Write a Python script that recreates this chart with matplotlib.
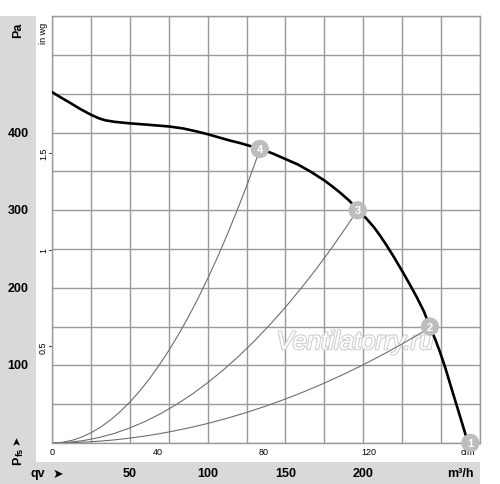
import matplotlib
matplotlib.use("Agg")
import matplotlib.pyplot as plt
import matplotlib.patheffects as pe
from matplotlib.transforms import blended_transform_factory
from matplotlib.patches import Rectangle

plt.rcParams['font.family'] = ['Liberation Sans', 'DejaVu Sans']

# ---- data ----
fan_q = [0, 5, 11, 18, 25, 30, 34, 40, 50, 63, 75, 84, 92, 100, 107, 114, 121, 127, 134,
         142, 150, 158, 166, 175, 180, 185, 191, 197, 202, 207, 211, 215, 220, 225, 230,
         234.5, 239, 243, 246.5, 249.5, 253, 256, 259.5, 263, 266, 269]
fan_p = [452, 446, 439, 430.5, 423, 418.5, 416, 414, 412, 410, 408, 405.5, 402, 398, 394,
         390, 386.5, 383, 379, 373, 366, 359, 350, 338.5, 331, 323, 312.5, 300, 289.5, 278,
         267, 255, 239, 222, 204.5, 188, 170, 150, 133, 117, 96, 76, 53, 30, 10, 0]

sys4_q = [0, 6.25, 12.5, 18.75, 25, 31.25, 37.5, 43.75, 50, 56.25, 62.5, 68.75, 75, 81.25,
          87.5, 93.75, 100, 106.25, 112.5, 118.75, 125, 129, 133.5]
sys4_p = [0, 0.8, 3.3, 7.5, 13.3, 20.7, 29.8, 40.6, 53, 67, 82.8, 100.2, 119.3, 140, 162.3,
          186.3, 212, 239.3, 268.3, 299, 331, 352.8, 378]
sys3_q = [0, 10, 20, 30, 40, 50, 60, 70, 80, 90, 100, 110, 120, 130, 140, 150, 160, 170,
          180, 190, 196.5]
sys3_p = [0, 0.8, 3.1, 7, 12.4, 19.5, 28, 38.1, 49.8, 63, 77.8, 94.1, 112, 131.5, 152.5,
          175, 199.2, 224.8, 252, 280.9, 300.4]
sys2_q = [0, 12.5, 25, 37.5, 50, 62.5, 75, 87.5, 100, 112.5, 125, 137.5, 150, 162.5, 175,
          187.5, 200, 212.5, 225, 237.5, 243]
sys2_p = [0, 0.4, 1.6, 3.5, 6.3, 9.8, 14.2, 19.3, 25.2, 31.9, 39.4, 47.6, 56.7, 66.5, 77.2,
          88.6, 100.8, 113.8, 127.6, 142.1, 148.8]

op_labels = ['1', '2', '3', '4']
op_q = [269, 243, 196.5, 133.5]
op_p = [0, 150, 300, 379]

pa_ticks = [100, 200, 300, 400]
m3h_ticks = [50, 100, 150, 200]
cfm_ticks = [0, 40, 80, 120]
inwg_ticks = [0.5, 1, 1.5]

W, H = 500, 485
fig = plt.figure(figsize=(W / 100, H / 100), dpi=100)

# gray strips
fig.patches.append(Rectangle((0, 0), 35.7 / W, (485 - 17.3) / H, transform=fig.transFigure,
                             facecolor='#d9d9d9', edgecolor='none', zorder=0))
fig.patches.append(Rectangle((0, 0), 479.7 / W, (485 - 462.7) / H, transform=fig.transFigure,
                             facecolor='#d9d9d9', edgecolor='none', zorder=0))

left, right, top, bottom = 52.3, 479.7, 17.3, 444.0
ax = fig.add_axes([left / W, (H - bottom) / H, (right - left) / W, (bottom - top) / H])
ax.set_xlim(0, 275)
ax.set_ylim(0, 550)
ax.set_xticks([i * 25 for i in range(12)])
ax.set_yticks([i * 50 for i in range(12)])
ax.tick_params(left=False, bottom=False, labelleft=False, labelbottom=False)
ax.grid(True, color='#9a9a9a', linewidth=1.0)
ax.set_axisbelow(True)
for s in ax.spines.values():
    s.set_color('#9a9a9a')
    s.set_linewidth(1.0)

# watermark
ax.text(195, 130, 'Ventilatorry.ru', fontsize=18.5, style='italic', color='white',
        ha='center', va='center', zorder=1.5,
        path_effects=[pe.withStroke(linewidth=1.6, foreground='#cfcfcf')])

# system curves
for q, p in [(sys4_q, sys4_p), (sys3_q, sys3_p), (sys2_q, sys2_p)]:
    ax.plot(q, p, color='#6e6e6e', linewidth=0.8, zorder=2)

# fan curve
ax.plot(fan_q, fan_p, color='black', linewidth=1.9, zorder=3, solid_joinstyle='round')

# operating points
ax.scatter(op_q, op_p, s=175, color='#bdbdbd', edgecolors='none', zorder=5, clip_on=False)
for lab, q, p in zip(op_labels, op_q, op_p):
    ax.text(q, p, lab, color='white', fontsize=8, fontweight='bold', ha='center',
            va='center', zorder=6, clip_on=False)

# Pa labels in left strip
ty = blended_transform_factory(fig.transFigure, ax.transData)
for v in pa_ticks:
    fig.text(18 / W, v, str(v), transform=ty, ha='center', va='center',
             fontsize=9, fontweight='bold')
fig.text(18 / W, (H - 30) / H, 'Pa', rotation=90, ha='center', va='center',
         fontsize=9, fontweight='bold')

# in wg secondary labels
for v in inwg_ticks:
    pa = v * 249.089
    fig.text(43.5 / W, pa, '%g' % v, transform=ty, rotation=90, ha='center', va='center',
             fontsize=6.5)
    ax.plot([-2.0, 0], [pa, pa], color='#555555', linewidth=0.8, clip_on=False, zorder=2)
fig.text(44 / W, (H - 33) / H, 'in wg', rotation=90, ha='center', va='center', fontsize=6.5)

# m3/h labels in bottom strip
tx = blended_transform_factory(ax.transData, fig.transFigure)
for v in m3h_ticks:
    fig.text(v, (H - 474) / H, str(v), transform=tx, ha='center', va='center',
             fontsize=9, fontweight='bold')
fig.text(460 / W, (H - 474) / H, 'm³/h', ha='center', va='center', fontsize=9, fontweight='bold')
fig.text(38 / W, (H - 474) / H, 'qv', ha='center', va='center', fontsize=9, fontweight='bold')
fig.text(58 / W, (H - 474) / H, '➤', ha='center', va='center', fontsize=9,
         family=['DejaVu Sans'])

# cfm labels
ycfm = -9 * 550 / (bottom - top)
for v in cfm_ticks:
    ax.text(v * 1.699, ycfm, str(v), ha='center', va='center',
            fontsize=6.5, clip_on=False, zorder=1)
ax.text((467.7 - left) * 275 / (right - left), ycfm, 'cfm',
        ha='center', va='center', fontsize=6.5, clip_on=False, zorder=1)

# Pfs label
fig.text(18 / W, (H - 461) / H, 'P', rotation=90, ha='center', va='center',
         fontsize=9, fontweight='bold')
fig.text(20.5 / W, (H - 452) / H, 'fs', rotation=90, ha='center', va='center',
         fontsize=6.5, fontweight='bold')
fig.text(17 / W, (H - 440.5) / H, '➤', rotation=90, ha='center', va='center', fontsize=8,
         family=['DejaVu Sans'])

fig.savefig('out.png', dpi=100)
